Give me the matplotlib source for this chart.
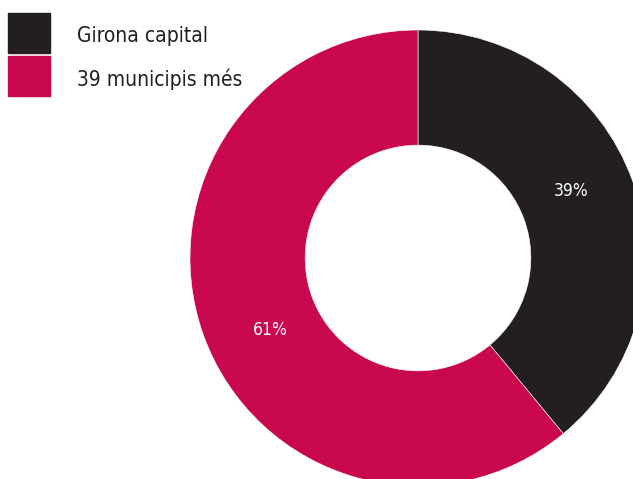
import matplotlib
matplotlib.use("Agg")
import matplotlib.pyplot as plt
from matplotlib.patches import Rectangle

plt.rcParams['font.family'] = ['Liberation Sans Narrow', 'DejaVu Sans']
plt.rcParams['font.stretch'] = 'condensed'

labels = ["Girona capital", "39 municipis més"]
shares = [39, 61]
colors = ["#231f20", "#c8074f"]

W, H = 633, 479
fig = plt.figure(figsize=(W / 100, H / 100), dpi=100)
ax = fig.add_axes([0, 0, 1, 1])

# donut, partly running off the right and bottom edges
cx, cy, r = 418, H - 258, 228
wedges, texts = ax.pie(shares, colors=colors, startangle=90, counterclock=False,
                       center=(cx, cy), radius=r, frame=True,
                       wedgeprops=dict(width=r * 0.505, edgecolor="white", linewidth=0.4))
ax.set_xlim(0, W)
ax.set_ylim(0, H)
ax.set_aspect("equal")
ax.axis("off")

# percentage labels inside each ring segment
ax.text(571, H - 191, f"{shares[0]}%", color="white", fontsize=12.5,
        ha="center", va="center")
ax.text(270, H - 330, f"{shares[1]}%", color="white", fontsize=12.5,
        ha="center", va="center")

# legend squares and labels
for i, (lab, col) in enumerate(zip(labels, colors)):
    y0 = H - 13 - i * 43
    ax.add_patch(Rectangle((8, y0 - 40), 42, 40, color=col, clip_on=False))
    ax.text(77, y0 - 23, lab, fontsize=15, color="#231f20", ha="left", va="center")

fig.savefig("out.png", dpi=100)
